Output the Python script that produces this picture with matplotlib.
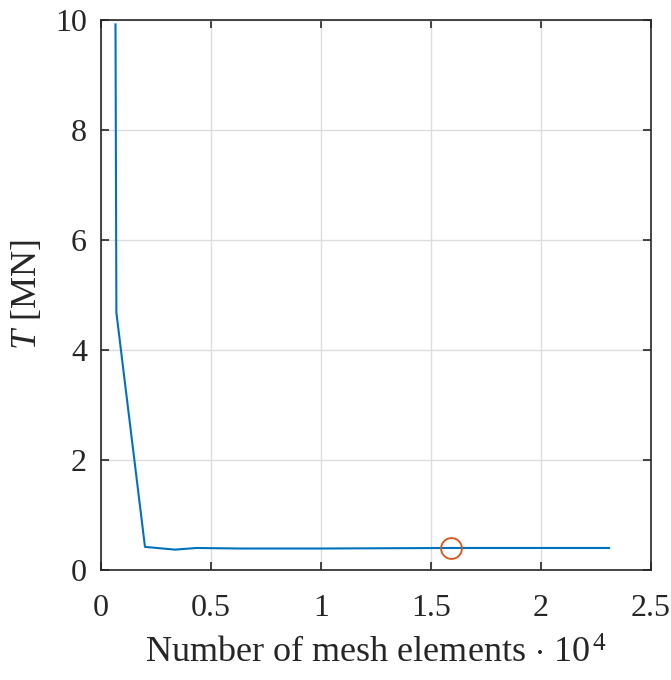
import matplotlib
matplotlib.use("Agg")
import matplotlib.pyplot as plt

# mesh convergence: number of elements (x 10^4) vs thrust T [MN]
elements = [0.066, 0.070, 0.200, 0.336, 0.435, 0.64, 0.98, 1.59, 2.31]
thrust = [9.92, 4.68, 0.42, 0.37, 0.40, 0.39, 0.39, 0.40, 0.40]

# chosen mesh
chosen_x = [1.59]
chosen_y = [0.40]

xticks = [0, 0.5, 1, 1.5, 2, 2.5]
xtick_labels = ["0", "0.5", "1", "1.5", "2", "2.5"]
yticks = [0, 2, 4, 6, 8, 10]

plt.rcParams['font.family'] = ['Liberation Serif', 'DejaVu Serif']
plt.rcParams['mathtext.fontset'] = 'custom'
plt.rcParams['mathtext.it'] = 'Liberation Serif:italic'
plt.rcParams['mathtext.rm'] = 'Liberation Serif'

fig = plt.figure(figsize=(6.71, 6.80), dpi=100)
ax = fig.add_axes([0.1505, 0.1618, 0.8195, 0.8088])

ax.plot(elements, thrust, '-', color='#0072BD', lw=1.5)
ax.plot(chosen_x, chosen_y, 'o', mfc='none', mec='#D95319', ms=15, mew=1.3)

ax.set_xlim(0, 2.5)
ax.set_ylim(0, 10)
ax.set_xticks(xticks)
ax.set_xticklabels(xtick_labels)
ax.set_yticks(yticks)

ax.grid(True, color='#dcdcdc', lw=1)
ax.set_axisbelow(True)
for s in ax.spines.values():
    s.set_color('#262626')
    s.set_linewidth(1.2)
ax.tick_params(direction='in', top=True, right=True, length=6, width=1.2,
               colors='#262626', labelsize=23)
ax.tick_params(axis='x', pad=17)
ax.tick_params(axis='y', pad=10)
for lab in ax.get_xticklabels() + ax.get_yticklabels():
    lab.set_color('#262626')

ax.set_xlabel(r"Number of mesh elements $\cdot$ 10$^{\,4}$", fontsize=26, color='#262626', labelpad=11)
ax.set_ylabel(r"$T$ [MN]", fontsize=26, color='#262626', labelpad=8)

fig.savefig("out.png", dpi=100)
